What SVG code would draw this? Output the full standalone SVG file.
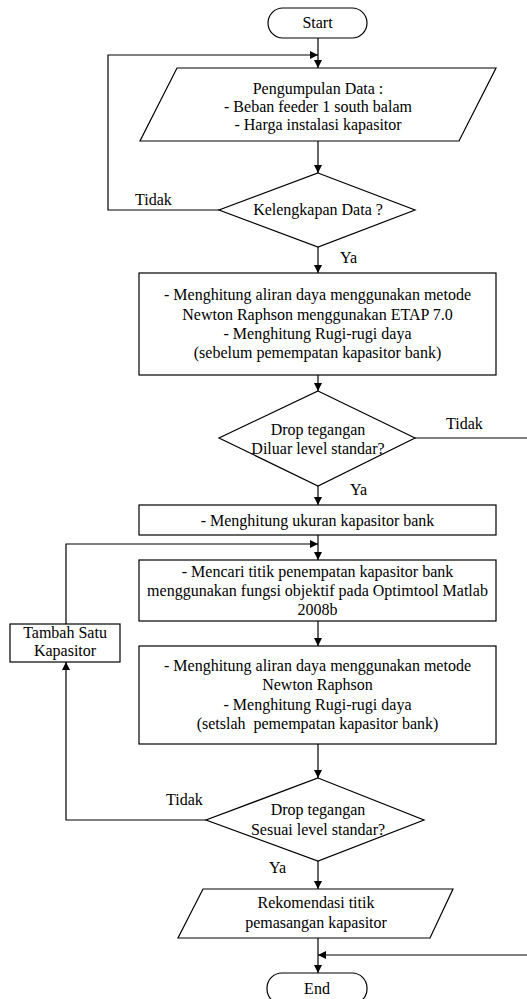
<svg xmlns="http://www.w3.org/2000/svg" width="527" height="999" viewBox="0 0 527 999" font-family="'Liberation Serif', 'DejaVu Serif', serif" font-size="16">
<style>
.s{fill:#fff;stroke:#000;stroke-width:1.2}
.c{fill:none;stroke:#000;stroke-width:1.2}
text{fill:#000}
.m{text-anchor:middle}
</style>
<defs>
<marker id="a" viewBox="0 0 10 10" refX="10" refY="5" markerWidth="8" markerHeight="8" markerUnits="userSpaceOnUse" orient="auto">
<path d="M0,0 L10,5 L0,10 z" fill="#000"/>
</marker>
</defs>
<g id="connectors">
<path class="c" d="M318,38 V68" marker-end="url(#a)"/>
<path class="c" d="M219,210 H108 V55 H318" marker-end="url(#a)"/>
<path class="c" d="M318,141 V173" marker-end="url(#a)"/>
<path class="c" d="M318,247 V273" marker-end="url(#a)"/>
<path class="c" d="M318,375 V391" marker-end="url(#a)"/>
<path class="c" d="M318,486 V505" marker-end="url(#a)"/>
<path class="c" d="M415,438 H530 V955 H318" marker-end="url(#a)"/>
<path class="c" d="M318,535 V560" marker-end="url(#a)"/>
<path class="c" d="M66,624 V544 H318" marker-end="url(#a)"/>
<path class="c" d="M318,621 V646" marker-end="url(#a)"/>
<path class="c" d="M318,744 V778" marker-end="url(#a)"/>
<path class="c" d="M206,820 H66 V662" marker-end="url(#a)"/>
<path class="c" d="M318,861 V889" marker-end="url(#a)"/>
<path class="c" d="M318,938 V973" marker-end="url(#a)"/>
<text x="135" y="205">Tidak</text>
<text x="340" y="263">Ya</text>
<text x="446" y="429">Tidak</text>
<text x="350" y="495">Ya</text>
<text x="166" y="805">Tidak</text>
<text x="269" y="873">Ya</text>
</g>
<g id="start">
<rect class="s" x="268" y="8" width="99" height="30" rx="15"/>
<text class="m" x="317.5" y="28">Start</text>
</g>
<g id="data">
<polygon class="s" points="177,68 496,68 459,141 140,141"/>
<text class="m" x="318" y="94">Pengumpulan Data :</text>
<text class="m" x="318" y="112">- Beban feeder 1 south balam</text>
<text class="m" x="318" y="130">- Harga instalasi kapasitor</text>
</g>
<g id="check-data">
<polygon class="s" points="318,173 415,210 318,247 219,210"/>
<text class="m" x="318" y="215">Kelengkapan Data ?</text>
</g>
<g id="loadflow1">
<rect class="s" x="139" y="273" width="357" height="102"/>
<text class="m" x="317.5" y="300">- Menghitung aliran daya menggunakan metode</text>
<text class="m" x="317.5" y="320">Newton Raphson menggunakan ETAP 7.0</text>
<text class="m" x="317.5" y="339">- Menghitung Rugi-rugi daya</text>
<text class="m" x="317.5" y="358">(sebelum pemempatan kapasitor bank)</text>
</g>
<g id="check-drop1">
<polygon class="s" points="318,391 415,438 318,486 219,438"/>
<text class="m" x="318" y="435">Drop tegangan</text>
<text class="m" x="318" y="454">Diluar level standar?</text>
</g>
<g id="size">
<rect class="s" x="139" y="505" width="357" height="30"/>
<text class="m" x="317.5" y="526">- Menghitung ukuran kapasitor bank</text>
</g>
<g id="placement">
<rect class="s" x="139" y="560" width="357" height="61"/>
<text class="m" x="317.5" y="577">- Mencari titik penempatan kapasitor bank</text>
<text class="m" x="317.5" y="596">menggunakan fungsi objektif pada Optimtool Matlab</text>
<text class="m" x="317.5" y="615">2008b</text>
</g>
<g id="loadflow2">
<rect class="s" x="139" y="646" width="357" height="98"/>
<text class="m" x="317.5" y="671">- Menghitung aliran daya menggunakan metode</text>
<text class="m" x="317.5" y="690">Newton Raphson</text>
<text class="m" x="317.5" y="710">- Menghitung Rugi-rugi daya</text>
<text class="m" x="317.5" y="729" xml:space="preserve">(setslah  pemempatan kapasitor bank)</text>
</g>
<g id="add-capacitor">
<rect class="s" x="10" y="624" width="110" height="38"/>
<text class="m" x="65" y="638">Tambah Satu</text>
<text class="m" x="65" y="656">Kapasitor</text>
</g>
<g id="check-drop2">
<polygon class="s" points="318,778 424,820 318,861 206,820"/>
<text class="m" x="318" y="815">Drop tegangan</text>
<text class="m" x="318" y="835">Sesuai level standar?</text>
</g>
<g id="recommend">
<polygon class="s" points="203,889 453,889 430,938 178,938"/>
<text class="m" x="316" y="908">Rekomendasi titik</text>
<text class="m" x="316" y="928">pemasangan kapasitor</text>
</g>
<g id="end">
<rect class="s" x="267" y="973" width="100" height="31" rx="15"/>
<text class="m" x="317" y="994">End</text>
</g>
</svg>
